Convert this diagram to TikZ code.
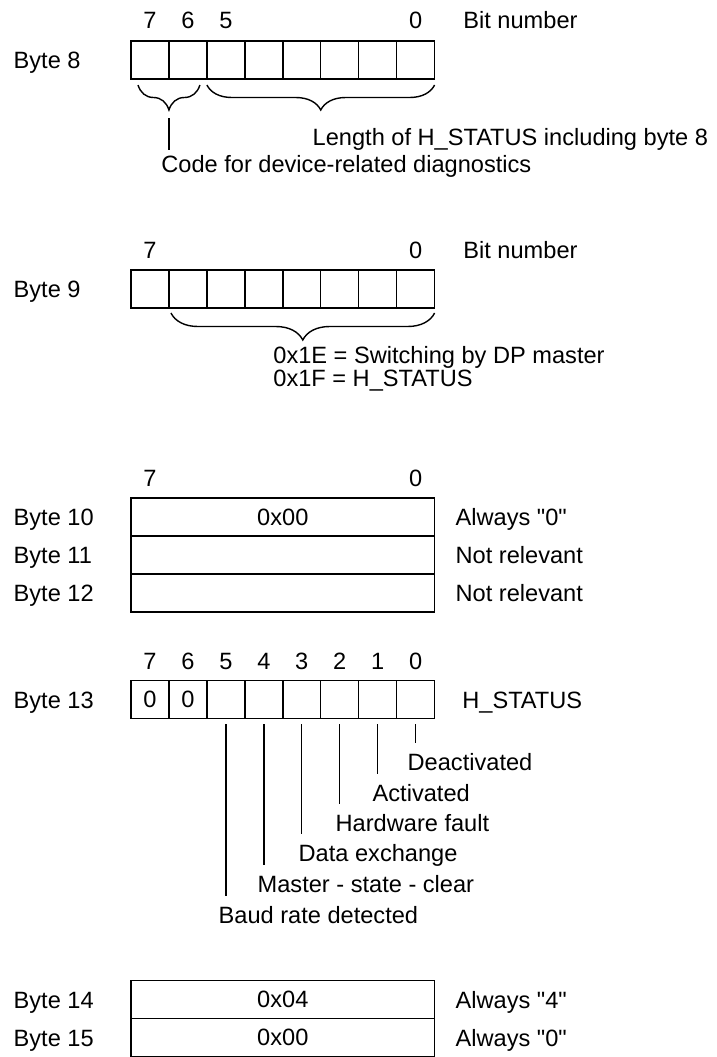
\documentclass[tikz,border=0pt]{standalone}
\usepackage{fontspec}
\setmainfont{Liberation Sans}
\usetikzlibrary{decorations.pathreplacing}
\newcommand{\cw}{37.95}
\begin{document}
\begin{tikzpicture}[x=1pt,y=-1pt,line width=1.4pt,
  txt/.style={font=\fontsize{23.6}{28}\selectfont,inner sep=0pt,anchor=base west},
  ctxt/.style={font=\fontsize{23.6}{28}\selectfont,inner sep=0pt,anchor=base},
  cell/.style={draw,minimum width=37.95pt,minimum height=38pt,inner sep=0pt,outer sep=0pt,anchor=north west,font=\fontsize{23.6}{28}\selectfont},
  bytebox/.style={draw,minimum width=303.6pt,minimum height=38pt,inner sep=0pt,outer sep=0pt,anchor=north west,font=\fontsize{23.6}{28}\selectfont},
  brc/.style={decorate,decoration={brace,mirror,amplitude=#1}},
  lead/.style={line width=1.4pt}]
\useasboundingbox (0,0) rectangle (717,1057);

% ---------- Byte 8 ----------
\node[txt] (lb8) at (13,68.5) {Byte 8};
\foreach \i in {0,...,7} \node[cell] (b8c\i) at ({131+(7-\i)*\cw},41) {};
\node[ctxt] (n8a) at ({131+0.5*\cw},29) {7};
\node[ctxt] (n8b) at ({131+1.5*\cw},29) {6};
\node[ctxt] (n8c) at ({131+2.5*\cw},29) {5};
\node[ctxt] (n8d) at ({131+7.5*\cw},29) {0};
\node[txt] (bn8) at (462.7,29) {Bit number};
\draw[brc=25pt] ([xshift=7pt,yshift=-6pt]b8c7.south west) -- ([xshift=-7pt,yshift=-6pt]b8c6.south east);
\draw[brc=25pt] ([yshift=-6pt]b8c5.south west) -- ([yshift=-6pt]b8c0.south east);
\coordinate (tip8) at ([yshift=-31pt]b8c7.south east);
\node[txt] (len8) at (312,145.4) {Length of H\_STATUS including byte 8};
\node[txt] (code8) at (160.7,172.5) {Code for device-related diagnostics};
\draw[lead] ([yshift=-8pt]tip8) -- ([yshift=4.5pt]code8.north -| tip8);

% ---------- Byte 9 ----------
\node[txt] (lb9) at (13,297.5) {Byte 9};
\foreach \i in {0,...,7} \node[cell] (b9c\i) at ({131+(7-\i)*\cw},270) {};
\node[ctxt] (n9a) at ({131+0.5*\cw},258) {7};
\node[ctxt] (n9b) at ({131+7.5*\cw},258) {0};
\node[txt] (bn9) at (462.7,258) {Bit number};
\draw[brc=27pt] ([xshift=2pt,yshift=-5pt]b9c6.south west) -- ([yshift=-5pt]b9c0.south east);
\node[txt] (sw9) at (272.7,363) {0x1E = Switching by DP master};
\node[txt] (hs9) at (272.7,386.5) {0x1F = H\_STATUS};

% ---------- Bytes 10-12 ----------
\node[ctxt] (n10a) at ({131+0.5*\cw},486.5) {7};
\node[ctxt] (n10b) at ({131+7.5*\cw},486.5) {0};
\node[bytebox] (r10) at (131,498) {0x00};
\node[bytebox] (r11) at (131,536) {};
\node[bytebox] (r12) at (131,574) {};
\node[txt] (lb10) at (13,525.4) {Byte 10};
\node[txt] (lb11) at (13,563.4) {Byte 11};
\node[txt] (lb12) at (13,601.4) {Byte 12};
\node[txt] (d10) at (455,525.4) {Always \textquotedbl 0\textquotedbl};
\node[txt] (d11) at (455,563.4) {Not relevant};
\node[txt] (d12) at (455,601.4) {Not relevant};

% ---------- Byte 13 ----------
\node[txt] (lb13) at (13,708) {Byte 13};
\foreach \i in {0,...,7} {
  \node[cell] (b13c\i) at ({131+(7-\i)*\cw},680.5) {};
  \node[ctxt] (n13\i) at ({131+(7.5-\i)*\cw},669) {\i};
}
\node[font=\fontsize{23.6}{28}\selectfont,inner sep=0pt] (z7) at (b13c7.center) {0};
\node[font=\fontsize{23.6}{28}\selectfont,inner sep=0pt] (z6) at (b13c6.center) {0};
\node[txt] (hs13) at (461.7,708) {H\_STATUS};
\node[txt] (l0) at (407,770.4) {Deactivated};
\node[txt] (l1) at (372,801.4) {Activated};
\node[txt] (l2) at (335,831.4) {Hardware fault};
\node[txt] (l3) at (298,861.4) {Data exchange};
\node[txt] (l4) at (257,892.4) {Master - state - clear};
\node[txt] (l5) at (218,923.4) {Baud rate detected};
\foreach \i in {0,...,5}
  \draw[lead] ([yshift=-5.5pt]b13c\i.south) -- ([yshift=10pt]l\i.north -| b13c\i.south);

% ---------- Bytes 14-15 ----------
\node[bytebox] (r14) at (131,980.5) {0x04};
\node[bytebox] (r15) at (131,1018.5) {0x00};
\node[txt] (lb14) at (13,1008.4) {Byte 14};
\node[txt] (lb15) at (13,1046) {Byte 15};
\node[txt] (d14) at (455,1008.4) {Always \textquotedbl 4\textquotedbl};
\node[txt] (d15) at (455,1046) {Always \textquotedbl 0\textquotedbl};
\end{tikzpicture}
\end{document}
